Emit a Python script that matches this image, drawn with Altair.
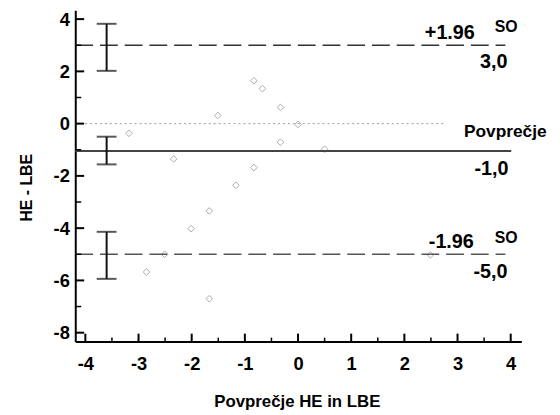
import altair as alt
import pandas as pd

# ---- data ----
avg_vals = [-3.18, -2.34, -1.51, -1.17, -0.83, -0.67, -0.33, 0.0, -0.33, -0.83,
            0.50, -1.67, -2.01, -2.51, -2.85, -1.67, 2.49]
diff_vals = [-0.37, -1.35, 0.31, -2.36, 1.64, 1.34, 0.62, -0.03, -0.71, -1.68,
             -0.98, -3.34, -4.02, -5.00, -5.68, -6.70, -5.02]

mean_diff = -1.05
upper_loa = 3.0
lower_loa = -5.0
zero_line = 0.0

ci_x = -3.6
ci_low = [2.02, -1.56, -5.94]
ci_high = [3.82, -0.50, -4.14]

x_labels = [-4, -3, -2, -1, 0, 1, 2, 3, 4]
x_minor = [-3.5, -2.5, -1.5, -0.5, 0.5, 1.5, 2.5, 3.5]
y_labels = [-8, -6, -4, -2, 0, 2, 4]
y_minor = [-7, -5, -3, -1, 1, 3]

x_dom = [-4.19, 4.2]
y_dom = [-8.34, 4.34]

FONT = "Liberation Sans"
W, H = 451, 335

xs = alt.Scale(domain=x_dom, nice=False, zero=False)
ys = alt.Scale(domain=y_dom, nice=False, zero=False)

XAX = alt.Axis(
    values=x_labels, ticks=False, grid=False, domainColor="black", domainWidth=2,
    labelExpr="'' + datum.value", labelFont=FONT, labelFontWeight="bold",
    labelFontSize=18.5, labelColor="black", labelPadding=13,
    title="Povprečje HE in LBE", titleFont=FONT, titleFontWeight="bold",
    titleFontSize=17, titleColor="black", titleX=224, titleY=66,
    titleAlign="center", titleBaseline="alphabetic")
YAX = alt.Axis(
    values=y_labels, ticks=False, grid=False, domainColor="black", domainWidth=2,
    labelExpr="'' + datum.value", labelFont=FONT, labelFontWeight="bold",
    labelFontSize=18.5, labelColor="black", labelPadding=6,
    title="HE - LBE", titleFont=FONT, titleFontWeight="bold",
    titleFontSize=16, titleColor="black", titleX=-44, titleY=179,
    titleAngle=270, titleAlign="center", titleBaseline="alphabetic")


def X(field):
    return alt.X(field, scale=xs, axis=XAX)


def Y(field):
    return alt.Y(field, scale=ys, axis=YAX)


points = alt.Chart(pd.DataFrame({"a": avg_vals, "d": diff_vals})).mark_point(
    shape="diamond", filled=False, color="#8a8a8a", size=45, strokeWidth=1
).encode(x=X("a:Q"), y=Y("d:Q"))

# inward ticks
yt_major = alt.Chart(pd.DataFrame({"v": y_labels})).mark_rule(color="black", strokeWidth=2).encode(
    y=Y("v:Q"), x=alt.value(0), x2=alt.value(9))
yt_minor = alt.Chart(pd.DataFrame({"v": y_minor})).mark_rule(color="black", strokeWidth=1.5).encode(
    y=Y("v:Q"), x=alt.value(0), x2=alt.value(6))
xt_major = alt.Chart(pd.DataFrame({"v": x_labels})).mark_rule(color="black", strokeWidth=2).encode(
    x=X("v:Q"), y=alt.value(H), y2=alt.value(H - 8))
xt_minor = alt.Chart(pd.DataFrame({"v": x_minor})).mark_rule(color="black", strokeWidth=1.5).encode(
    x=X("v:Q"), y=alt.value(H), y2=alt.value(H - 4))


def hline(yv, x_end, **kw):
    return alt.Chart(pd.DataFrame({"y": [yv], "x0": [x_dom[0]], "x1": [x_end]})).mark_rule(**kw).encode(
        x=X("x0:Q"), x2="x1:Q", y=Y("y:Q"))


zero_l = hline(zero_line, 2.73, color="#9a9a9a", strokeWidth=1, strokeDash=[2, 3])
mean_l = hline(mean_diff, 4.01, color="#444444", strokeWidth=2)
up_l = hline(upper_loa, 3.9, color="#333333", strokeWidth=1.5, strokeDash=[18, 7])
lo_l = hline(lower_loa, 3.9, color="#555555", strokeWidth=1.5, strokeDash=[18, 7])

ci_df = pd.DataFrame({"x": [ci_x] * 3, "lo": ci_low, "hi": ci_high})
ci_bar = alt.Chart(ci_df).mark_rule(color="#111111", strokeWidth=2).encode(
    x=X("x:Q"), y=Y("lo:Q"), y2="hi:Q")
cap_lo = alt.Chart(ci_df).mark_tick(orient="horizontal", size=20, thickness=2, color="#111111").encode(
    x=X("x:Q"), y=Y("lo:Q"))
cap_hi = alt.Chart(ci_df).mark_tick(orient="horizontal", size=20, thickness=2, color="#111111").encode(
    x=X("x:Q"), y=Y("hi:Q"))

labels = [
    ("+1.96", upper_loa, -6.7, 404, "right", 20),
    ("SO", upper_loa, -13.7, 424, "left", 16),
    ("3,0", upper_loa, 23, 437, "right", 20),
    ("Povprečje", mean_diff, -14.5, 393, "left", 17.5),
    ("-1,0", mean_diff, 24.3, 438, "right", 20),
    ("-1.96", lower_loa, -6.7, 403, "right", 20),
    ("SO", lower_loa, -11.7, 424, "left", 16),
    ("-5,0", lower_loa, 24, 437, "right", 20),
]
text_layers = []
for t, yv, dy, xp, al, fs in labels:
    text_layers.append(
        alt.Chart(pd.DataFrame({"y": [yv], "t": [t]})).mark_text(
            align=al, baseline="alphabetic", dy=dy, font=FONT, fontWeight="bold",
            fontSize=fs, color="black"
        ).encode(x=alt.value(xp), y=Y("y:Q"), text="t:N")
    )

chart = alt.layer(
    points, zero_l, mean_l, up_l, lo_l, yt_major, yt_minor, xt_major, xt_minor,
    ci_bar, cap_lo, cap_hi, *text_layers
).properties(
    width=W, height=H,
    padding={"left": 68, "top": 0, "right": 31, "bottom": 72},
    autosize=alt.AutoSizeParams(type="none"),
).configure_view(stroke="transparent")

chart.save("out.html", embed_options={"renderer": "svg", "actions": False})
